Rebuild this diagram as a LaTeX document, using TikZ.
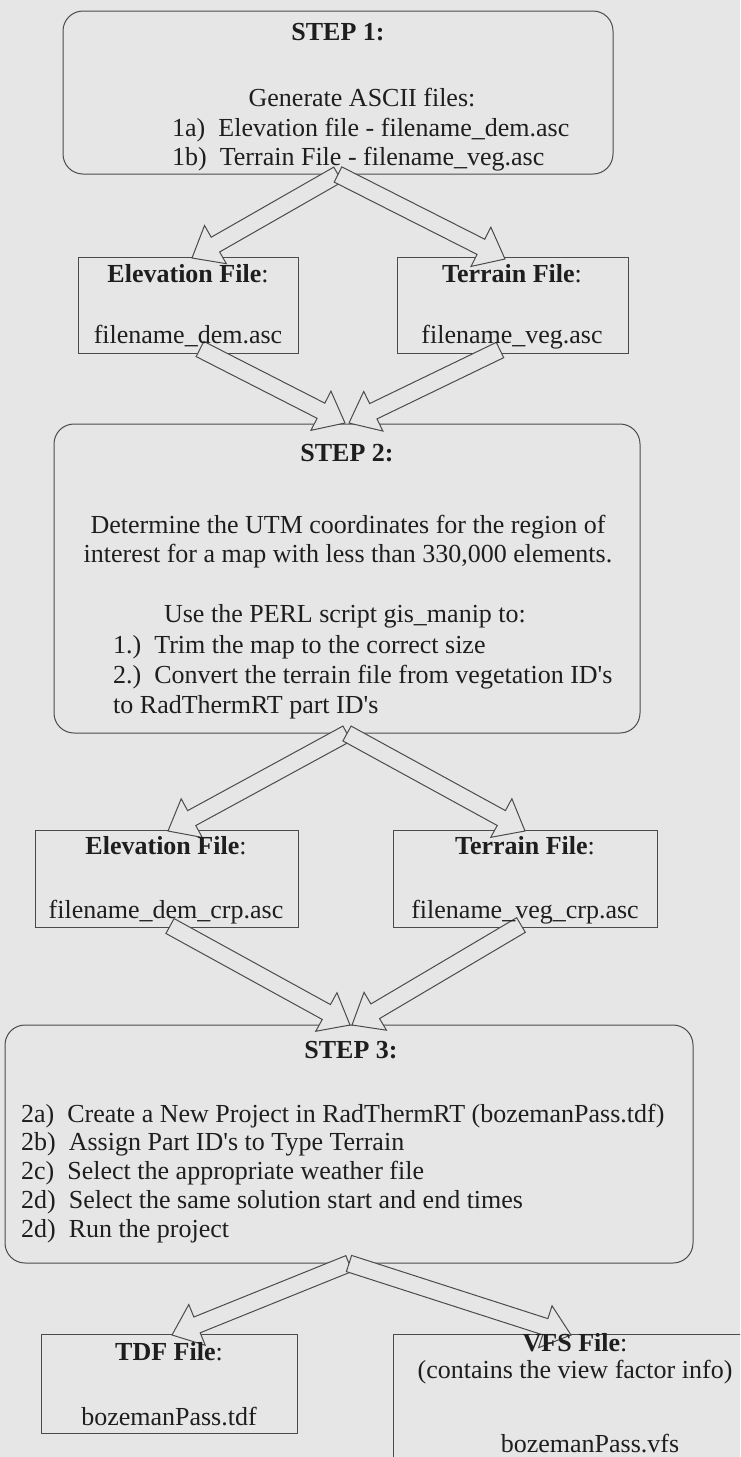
\documentclass[tikz,border=0pt]{standalone}
\usepackage{fontspec}
\setmainfont{Liberation Serif}
\usetikzlibrary{calc}
\definecolor{fond}{RGB}{230,230,230}
\definecolor{trait}{RGB}{75,75,75}
\definecolor{encre}{RGB}{30,30,30}
\tikzset{
  stepbox/.style={draw=trait, line width=1pt, rounded corners=20pt, inner sep=0pt},
  filebox/.style={draw=trait, line width=1pt, inner sep=0pt},
  txt/.style={text=encre, anchor=base, inner sep=0pt},
  fatarrow/.style={draw=trait, fill=fond, line width=1pt, line join=miter}
}
% grosse fleche : #1 nom, #2 queue, #3 pointe
\newcommand{\blockarrow}[3]{%
  \coordinate (#1b) at ($(#3)!27pt!(#2)$);
  \draw[fatarrow] ($(#2)!8.5pt!90:(#3)$) -- ($(#1b)!8.5pt!90:(#3)$) -- ($(#1b)!22pt!90:(#3)$) -- (#3)
    -- ($(#1b)!22pt!-90:(#3)$) -- ($(#1b)!8.5pt!-90:(#3)$) -- ($(#2)!8.5pt!-90:(#3)$) -- cycle;}
\begin{document}
\begin{tikzpicture}[x=1pt,y=-1pt,font=\fontsize{26}{29}\selectfont]
    \useasboundingbox (0,0) rectangle (740,1457);
    \clip (0,0) rectangle (740,1457);
    \fill[fond] (0,0) rectangle (740,1457); %Fond
    \node[stepbox,minimum width=550pt,minimum height=163pt] (step1) at (338,92.5) {}; %Etape 1
    \node[filebox,minimum width=220pt,minimum height=96pt] (elev1) at (188,305) {};
    \node[filebox,minimum width=231pt,minimum height=96pt] (terr1) at (512.5,305) {};
    \node[stepbox,minimum width=586pt,minimum height=309pt] (step2) at (347,578.5) {}; %Etape 2
    \node[filebox,minimum width=263pt,minimum height=97pt] (elev2) at (166.5,878.5) {};
    \node[filebox,minimum width=264pt,minimum height=97pt] (terr2) at (525,878.5) {};
    \node[stepbox,minimum width=688pt,minimum height=238pt] (step3) at (349,1144) {}; %Etape 3
    \node[filebox,minimum width=256pt,minimum height=99pt] (tdf) at (169,1383.5) {};
    \node[filebox,minimum width=382pt,minimum height=146pt] (vfs) at (584,1407) {}; %Coupee en bas a droite
    \coordinate (e1top) at (192,258);
    \coordinate (t1top) at (505,259);
    \coordinate (e1bas) at (200,349);
    \coordinate (t1bas) at (500,350);
    \coordinate (s2g) at (345,423);
    \coordinate (s2d) at (349,423);
    \coordinate (e2top) at (168,831);
    \coordinate (t2top) at (525,831);
    \coordinate (e2bas) at (170,926);
    \coordinate (t2bas) at (521,925);
    \coordinate (s3g) at (350,1025);
    \coordinate (s3d) at (352,1025);
    \coordinate (tdftop) at (172,1335);
    \coordinate (vfstop) at (571,1335);
    \blockarrow{a1}{step1.south}{e1top}
    \blockarrow{a2}{step1.south}{t1top}
    \blockarrow{a3}{e1bas}{s2g}
    \blockarrow{a4}{t1bas}{s2d}
    \blockarrow{a5}{step2.south}{e2top}
    \blockarrow{a6}{step2.south}{t2top}
    \blockarrow{a7}{e2bas}{s3g}
    \blockarrow{a8}{t2bas}{s3d}
    \blockarrow{a9}{step3.south}{tdftop}
    \blockarrow{a10}{step3.south}{vfstop}
    \node[txt] (titre1) at (338,40) {\textbf{STEP 1:}};
    \node[txt] (gen) at (362,106) {Generate ASCII files:};
    \node[txt,anchor=base west] (l1a) at (172,136) {1a)\ \ Elevation file - filename\_dem.asc};
    \node[txt,anchor=base west] (l1b) at (172,165) {1b)\ \ Terrain File - filename\_veg.asc};
    \node[txt] (e1titre) at (188,282) {\textbf{Elevation File}:};
    \node[txt] (e1nom) at (188,343) {filename\_dem.asc};
    \node[txt] (t1titre) at (512,282) {\textbf{Terrain File}:};
    \node[txt] (t1nom) at (512,343) {filename\_veg.asc};
    \node[txt] (titre2) at (347,461) {\textbf{STEP 2:}};
    \node[txt] (utm1) at (348,533) {Determine the UTM coordinates for the region of};
    \node[txt] (utm2) at (348,562) {interest for a map with less than 330,000 elements.};
    \node[txt] (perl) at (345,622) {Use the PERL script gis\_manip to:};
    \node[txt,anchor=base west] (l21) at (113,653) {1.)\ \ Trim the map to the correct size};
    \node[txt,anchor=base west] (l22) at (113,683) {2.)\ \ Convert the terrain file from vegetation ID\textquotesingle s};
    \node[txt,anchor=base west] (l23) at (113,713) {to RadThermRT part ID\textquotesingle s};
    \node[txt] (e2titre) at (166,854) {\textbf{Elevation File}:};
    \node[txt] (e2nom) at (166,918) {filename\_dem\_crp.asc};
    \node[txt] (t2titre) at (525,854) {\textbf{Terrain File}:};
    \node[txt] (t2nom) at (525,918) {filename\_veg\_crp.asc};
    \node[txt] (titre3) at (351,1058) {\textbf{STEP 3:}};
    \node[txt,anchor=base west] (l3a) at (21,1122) {2a)\ \ Create a New Project in RadThermRT (bozemanPass.tdf)};
    \node[txt,anchor=base west] (l3b) at (21,1150.75) {2b)\ \ Assign Part ID\textquotesingle s to Type Terrain};
    \node[txt,anchor=base west] (l3c) at (21,1179.5) {2c)\ \ Select the appropriate weather file};
    \node[txt,anchor=base west] (l3d) at (21,1208.25) {2d)\ \ Select the same solution start and end times};
    \node[txt,anchor=base west] (l3e) at (21,1237) {2d)\ \ Run the project};
    \node[txt] (tdftitre) at (169,1360) {\textbf{TDF File}:};
    \node[txt] (tdfnom) at (169,1425) {bozemanPass.tdf};
    \node[txt] (vfstitre) at (575,1351) {\textbf{VFS File}:};
    \node[txt] (vfsinfo) at (575,1378) {(contains the view factor info)};
    \node[txt] (vfsnom) at (590,1452) {bozemanPass.vfs};
\end{tikzpicture}
\end{document}
